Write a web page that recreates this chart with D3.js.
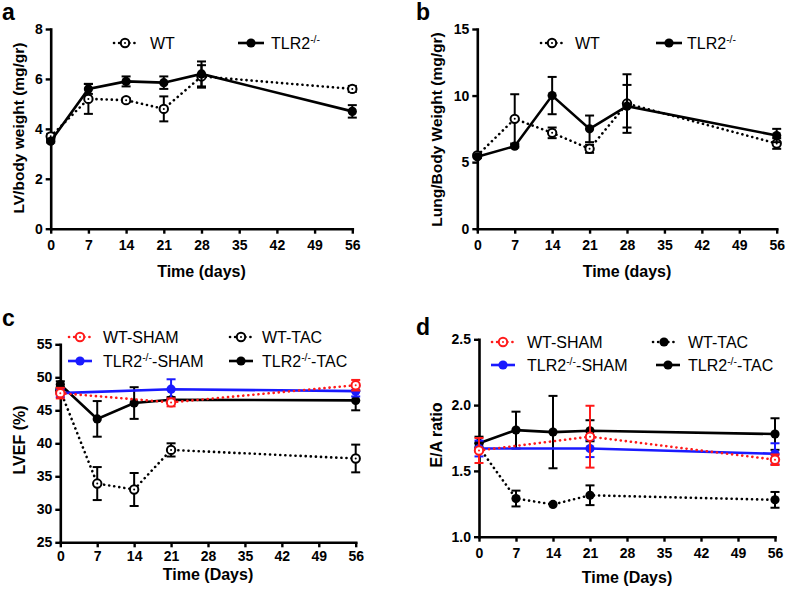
<!DOCTYPE html>
<html><head><meta charset="utf-8">
<script src="https://cdn.jsdelivr.net/npm/d3@7/dist/d3.min.js"></script>
<style>body{margin:0;background:#fff}svg{display:block}</style>
</head><body>
<svg id="chart" width="787" height="594"></svg>
<script>
// ---------- data ----------
const dayTicks = [0, 7, 14, 21, 28, 35, 42, 49, 56];
const daysAB = [0, 7, 14, 21, 28, 56];
const shamDays = [0, 21, 56];
const tacDays = [0, 7, 14, 21, 56];

// panel a: LV/body weight
const lvWT = [3.7, 5.2, 5.15, 4.8, 6.1, 5.6];
const lvWTErr = [0.1, 0.6, 0.08, 0.5, 0.45, 0.12];
const lvTLR = [3.5, 5.6, 5.9, 5.85, 6.2, 4.7];
const lvTLRErr = [0.05, 0.2, 0.2, 0.25, 0.5, 0.25];

// panel b: Lung/body weight
const lungWT = [5.5, 8.25, 7.2, 6.0, 9.4, 6.4];
const lungWTErr = [0.1, 1.85, 0.4, 0.3, 2.2, 0.4];
const lungTLR = [5.4, 6.2, 10.0, 7.5, 9.2, 7.0];
const lungTLRErr = [0.1, 0.1, 1.4, 1.0, 1.6, 0.5];

// panel c: LVEF
const efWTSham = [47.6, 46.2, 48.8];
const efWTShamErr = [0.8, 0.6, 0.8];
const efTLRSham = [47.6, 48.2, 47.9];
const efTLRShamErr = [0.6, 1.5, 0.8];
const efWTTac = [48.0, 33.9, 33.0, 39.0, 37.7];
const efWTTacErr = [0.5, 2.5, 2.5, 1.0, 2.1];
const efTLRTac = [48.9, 43.7, 46.1, 46.6, 46.5];
const efTLRTacErr = [0.5, 2.7, 2.4, 0.4, 1.5];

// panel d: E/A ratio
const eaWTSham = [1.655, 1.76, 1.585];
const eaWTShamErr = [0.095, 0.235, 0.04];
const eaTLRSham = [1.67, 1.67, 1.63];
const eaTLRShamErr = [0.06, 0.065, 0.08];
const eaWTTac = [1.68, 1.29, 1.245, 1.315, 1.28];
const eaWTTacErr = [0.03, 0.06, 0, 0.075, 0.06];
const eaTLRTac = [1.71, 1.81, 1.795, 1.805, 1.78];
const eaTLRTacErr = [0.05, 0.14, 0.275, 0.08, 0.12];

const yTicksA = [0, 2, 4, 6, 8];
const yTicksB = [0, 5, 10, 15];
const yTicksC = [25, 30, 35, 40, 45, 50, 55];
const yTicksD = [1.0, 1.5, 2.0, 2.5];

// ---------- styles ----------
const FONT = "'Liberation Sans', Arial, Helvetica, sans-serif";
const RED = "#ff1a1a", BLUE = "#1a1aff", BLACK = "#000";
const stWTopen = {color: BLACK, dotted: true, open: true};
const stTLR = {color: BLACK, dotted: false, open: false};
const stWTSham = {color: RED, dotted: true, open: true};
const stTLRSham = {color: BLUE, dotted: false, open: false};
const stWTTacOpen = {color: BLACK, dotted: true, open: true};
const stWTTacFilled = {color: BLACK, dotted: true, open: false};

const svg = d3.select("#chart");

function zip(xs, ys, es) { return xs.map((x, i) => ({x, y: ys[i], e: es[i]})); }

function marker(g, cx, cy, st) {
  if (st.open) {
    g.append("circle").attr("cx", cx).attr("cy", cy).attr("r", 4.2)
      .attr("fill", "#fff").attr("stroke", st.color).attr("stroke-width", 2);
    g.append("circle").attr("cx", cx).attr("cy", cy).attr("r", 1).attr("fill", st.color);
  } else {
    g.append("circle").attr("cx", cx).attr("cy", cy).attr("r", 4.6).attr("fill", st.color);
  }
}

function styleLine(sel, st) {
  sel.attr("fill", "none").attr("stroke", st.color).attr("stroke-width", st.dotted ? 2.6 : 2.6);
  if (st.dotted) sel.attr("stroke-dasharray", "0.1,5").attr("stroke-linecap", "round");
}

function addLabel(sel, name) {
  // name parts split by ^ : superscript segments are odd
  const parts = name.split("^");
  parts.forEach((p, i) => {
    if (!p) return;
    const t = sel.append("tspan").text(p);
    if (i % 2 === 1) t.attr("font-size", 10.5).attr("dy", -6);
    else if (i > 0) t.attr("dy", 6);
  });
}

function panel(p) {
  const g = svg.append("g");
  const x = d3.scaleLinear().domain([0, 56]).range([p.x0, p.x1]);
  const y = d3.scaleLinear().domain(p.yDom).range([p.yBot, p.yTop]);

  const xa = g.append("g").attr("transform", `translate(0,${p.yBot})`)
    .call(d3.axisBottom(x).tickValues(dayTicks).tickSize(5).tickPadding(p.xPad).tickSizeOuter(0));
  const ya = g.append("g").attr("transform", `translate(${p.x0},0)`)
    .call(d3.axisLeft(y).tickValues(p.yTicks).tickFormat(p.fmt).tickSize(5).tickPadding(3).tickSizeOuter(0));
  [xa, ya].forEach(a => {
    a.select(".domain").attr("stroke-width", 2.6).attr("stroke-linecap", "square");
    a.selectAll(".tick line").attr("stroke-width", 2.4);
    a.selectAll("text").attr("font-family", FONT).attr("font-weight", "bold").attr("font-size", 14).attr("fill", "#000");
  });

  // series
  const line = d3.line().x(d => x(d.x)).y(d => y(d.y));
  p.series.forEach(s => {
    const pts = zip(s.x, s.y, s.e);
    const sg = g.append("g");
    styleLine(sg.append("path").attr("d", line(pts)), s.st);
    pts.forEach(d => {
      if (d.e > 0) {
        const y1 = y(d.y + d.e), y2 = y(d.y - d.e), cx = x(d.x);
        sg.append("line").attr("x1", cx).attr("x2", cx).attr("y1", y1).attr("y2", y2)
          .attr("stroke", s.st.color).attr("stroke-width", 2);
        [y1, y2].forEach(yy => sg.append("line").attr("x1", cx - 4.5).attr("x2", cx + 4.5)
          .attr("y1", yy).attr("y2", yy).attr("stroke", s.st.color).attr("stroke-width", 2));
      }
    });
    pts.forEach(d => marker(sg, x(d.x), y(d.y), s.st));
  });

  // legend
  p.legend.forEach(l => {
    const lg = g.append("g");
    styleLine(lg.append("line").attr("x1", l.mx - l.half).attr("x2", l.mx + l.half)
      .attr("y1", l.y).attr("y2", l.y), l.st);
    marker(lg, l.mx, l.y, l.st);
    const t = lg.append("text").attr("x", l.tx).attr("y", l.y + 6)
      .attr("font-family", FONT).attr("font-size", 16).attr("fill", "#000");
    addLabel(t, l.name);
  });

  // axis titles
  g.append("text").attr("x", (p.x0 + p.x1) / 2).attr("y", p.xTitleY).attr("text-anchor", "middle")
    .attr("font-family", FONT).attr("font-weight", "bold").attr("font-size", 16).text(p.xTitle);
  g.append("text").attr("transform", `translate(${p.yTitleX},${p.yTitleY}) rotate(-90)`)
    .attr("text-anchor", "middle").attr("font-family", FONT).attr("font-weight", "bold")
    .attr("font-size", p.yTitleSize || 16).text(p.yTitle);
  // panel letter
  g.append("text").attr("x", p.lx).attr("y", p.ly).attr("font-family", FONT)
    .attr("font-weight", "bold").attr("font-size", 23).text(p.letter);
}

panel({
  letter: "a", lx: 2, ly: 20,
  x0: 50.7, x1: 352.3, yTop: 29, yBot: 228.7, xPad: 6,
  yDom: [0, 8], yTicks: yTicksA, fmt: d3.format("d"),
  xTitle: "Time (days)", xTitleY: 277,
  yTitle: "LV/body weight (mg/gr)", yTitleX: 23.5, yTitleY: 128, yTitleSize: 15.5,
  series: [
    {x: daysAB, y: lvWT, e: lvWTErr, st: stWTopen},
    {x: daysAB, y: lvTLR, e: lvTLRErr, st: stTLR}
  ],
  legend: [
    {name: "WT", st: stWTopen, mx: 125, half: 11, tx: 150, y: 43},
    {name: "TLR2^-/-", st: stTLR, mx: 251, half: 13, tx: 271, y: 43}
  ]
});

panel({
  letter: "b", lx: 416, ly: 20,
  x0: 477.3, x1: 776.7, yTop: 29, yBot: 228.7, xPad: 6,
  yDom: [0, 15], yTicks: yTicksB, fmt: d3.format("d"),
  xTitle: "Time (days)", xTitleY: 277,
  yTitle: "Lung/Body Weight (mg/gr)", yTitleX: 441.5, yTitleY: 129.5, yTitleSize: 15.5,
  series: [
    {x: daysAB, y: lungWT, e: lungWTErr, st: stWTopen},
    {x: daysAB, y: lungTLR, e: lungTLRErr, st: stTLR}
  ],
  legend: [
    {name: "WT", st: stWTopen, mx: 552, half: 11, tx: 575, y: 43},
    {name: "TLR2^-/-", st: stTLR, mx: 669, half: 13, tx: 687, y: 43}
  ]
});

panel({
  letter: "c", lx: 2, ly: 326,
  x0: 60.3, x1: 355.7, yTop: 344.3, yBot: 542.3, xPad: 4,
  yDom: [25, 55], yTicks: yTicksC, fmt: d3.format("d"),
  xTitle: "Time (Days)", xTitleY: 580,
  yTitle: "LVEF (%)", yTitleX: 25, yTitleY: 440, yTitleSize: 16,
  series: [
    {x: tacDays, y: efWTTac, e: efWTTacErr, st: stWTTacOpen},
    {x: tacDays, y: efTLRTac, e: efTLRTacErr, st: stTLR},
    {x: shamDays, y: efTLRSham, e: efTLRShamErr, st: stTLRSham},
    {x: shamDays, y: efWTSham, e: efWTShamErr, st: stWTSham}
  ],
  legend: [
    {name: "WT-SHAM", st: stWTSham, mx: 80, half: 11, tx: 103, y: 337},
    {name: "TLR2^-/-^-SHAM", st: stTLRSham, mx: 80, half: 12, tx: 103, y: 361},
    {name: "WT-TAC", st: stWTTacOpen, mx: 241, half: 11, tx: 262, y: 337},
    {name: "TLR2^-/-^-TAC", st: stTLR, mx: 241, half: 12, tx: 262, y: 361}
  ]
});

panel({
  letter: "d", lx: 416, ly: 335,
  x0: 479, x1: 775, yTop: 339.3, yBot: 536.7, xPad: 6,
  yDom: [1.0, 2.5], yTicks: yTicksD, fmt: d3.format(".1f"),
  xTitle: "Time (Days)", xTitleY: 583,
  yTitle: "E/A ratio", yTitleX: 442, yTitleY: 435, yTitleSize: 16,
  series: [
    {x: tacDays, y: eaWTTac, e: eaWTTacErr, st: stWTTacFilled},
    {x: tacDays, y: eaTLRTac, e: eaTLRTacErr, st: stTLR},
    {x: shamDays, y: eaTLRSham, e: eaTLRShamErr, st: stTLRSham},
    {x: shamDays, y: eaWTSham, e: eaWTShamErr, st: stWTSham}
  ],
  legend: [
    {name: "WT-SHAM", st: stWTSham, mx: 503, half: 11, tx: 527, y: 342},
    {name: "TLR2^-/-^-SHAM", st: stTLRSham, mx: 503, half: 12, tx: 527, y: 365},
    {name: "WT-TAC", st: stWTTacFilled, mx: 664, half: 11, tx: 688, y: 342},
    {name: "TLR2^-/-^-TAC", st: stTLR, mx: 668, half: 12, tx: 688, y: 365}
  ]
});
</script>
</body></html>
